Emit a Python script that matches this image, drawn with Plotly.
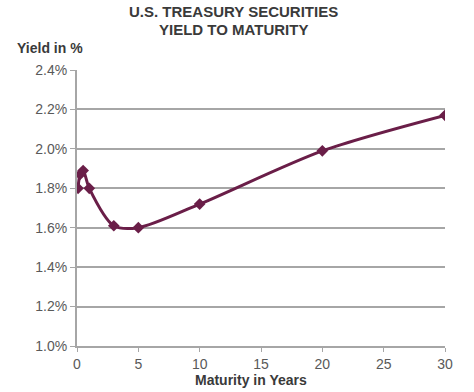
import plotly.graph_objects as go

maturity_years = [0.083, 0.25, 0.5, 1, 3, 5, 10, 20, 30]
yield_pct = [1.80, 1.87, 1.89, 1.80, 1.61, 1.60, 1.72, 1.99, 2.17]

y_ticks = [1.0, 1.2, 1.4, 1.6, 1.8, 2.0, 2.2, 2.4]
y_tick_labels = ["1.0%", "1.2%", "1.4%", "1.6%", "1.8%", "2.0%", "2.2%", "2.4%"]
x_ticks = [0, 5, 10, 15, 20, 25, 30]

line_color = "#6A1E48"
grid_color = "#A6A6A6"
text_color = "#595959"
title_color = "#3A3A3A"
font_family = "Liberation Sans, Arial, sans-serif"

W, H = 474, 392
L, R, T, B = 77, 29, 70, 46
pw, ph = W - L - R, H - T - B

def px_x(x):  # pixel x -> paper
    return (x - L) / pw

def px_y(y):  # pixel y -> paper
    return (H - B - y) / ph

fig = go.Figure()
fig.add_trace(go.Scatter(
    x=maturity_years, y=yield_pct, mode="lines+markers",
    line=dict(color=line_color, width=3, shape="spline", smoothing=0.8),
    marker=dict(symbol="diamond", size=9, color=line_color),
    showlegend=False, hoverinfo="skip",
))

fig.update_layout(
    width=W, height=H,
    margin=dict(l=L, r=R, t=T, b=B),
    paper_bgcolor="white", plot_bgcolor="white",
    font=dict(family=font_family, color=text_color, size=14),
    annotations=[
        dict(text="<b>U.S. TREASURY SECURITIES</b>", xref="paper", yref="paper",
             x=px_x(233), y=px_y(12), xanchor="center", yanchor="middle",
             showarrow=False, font=dict(size=15, color=title_color)),
        dict(text="<b>YIELD TO MATURITY</b>", xref="paper", yref="paper",
             x=px_x(233), y=px_y(29), xanchor="center", yanchor="middle",
             showarrow=False, font=dict(size=15, color=title_color)),
        dict(text="<b>Yield in %</b>", xref="paper", yref="paper",
             x=px_x(15), y=px_y(48), xanchor="left", yanchor="middle",
             showarrow=False, font=dict(size=14, color=title_color)),
        dict(text="<b>Maturity in Years</b>", xref="paper", yref="paper",
             x=px_x(251), y=px_y(380), xanchor="center", yanchor="middle",
             showarrow=False, font=dict(size=14, color=title_color)),
    ],
    xaxis=dict(
        range=[0, 30], tickvals=x_ticks, ticks="outside", ticklen=4,
        tickcolor=grid_color, showline=True, linecolor=grid_color, linewidth=2,
        showgrid=False, zeroline=False, automargin=False,
        tickfont=dict(size=14, color=text_color),
    ),
    yaxis=dict(
        range=[1.0, 2.4], tickvals=y_ticks, ticktext=y_tick_labels,
        ticks="outside", ticklen=5, tickcolor=grid_color,
        showline=True, linecolor=grid_color, linewidth=2,
        showgrid=True, gridcolor=grid_color, gridwidth=1.5, zeroline=False,
        automargin=False,
        tickfont=dict(size=14, color=text_color),
    ),
)

fig.write_html("out.html", config={"displayModeBar": False},
               post_script="document.body.style.margin='0';")
